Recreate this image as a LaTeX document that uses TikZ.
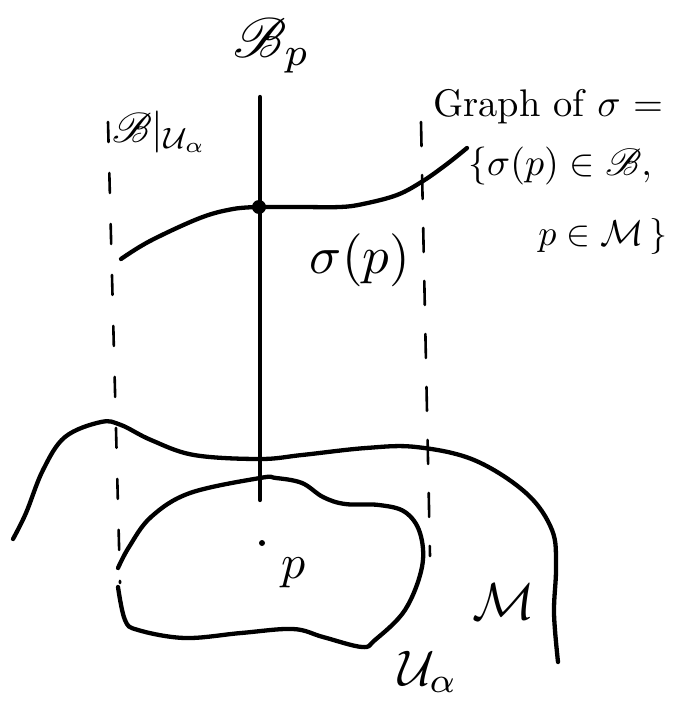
\documentclass[tikz,border=0pt]{standalone}
\usepackage{amsmath,amssymb,mathrsfs}
\usepackage{graphicx}
\begin{document}
\begin{tikzpicture}[x=1pt,y=-1pt,
  thick line/.style={line width=4.3pt,line cap=round,line join=round},
  dash line/.style={line width=2.6pt,line cap=round,dash pattern=on 20pt off 31pt},
  lbl/.style={inner sep=0pt,anchor=center}]
\useasboundingbox (0,0) rectangle (675,711);
% fibre and section
\coordinate (ftop) at (260,97);
\coordinate (fbot) at (260,500);
\draw[thick line] (ftop) -- (fbot);
\node[circle,fill,inner sep=0pt,minimum size=14pt] (sp) at (259,207) {};
\draw[thick line] plot[smooth,tension=0.6] coordinates {(121,259) (150,241) (200,218) (233,209) (sp)};
\draw[thick line] plot[smooth,tension=0.6] coordinates {(sp) (300,207) (340,207) (363,204) (397,195) (423,181) (447,164) (467,148)};
% dashed borders
\coordinate (la) at (108,122); \coordinate (lb) at (120,583);
\coordinate (ra) at (421,122); \coordinate (rb) at (430,556);
\draw[dash line] (la) -- (lb);
\draw[dash line,dash pattern=on 24pt off 29pt] (ra) -- (rb);
% manifold M
\draw[thick line] plot[smooth,tension=0.6] coordinates {(13,539) (26,513) (43,470) (65,437) (101,422) (121,425) (151,440) (194,455) (260,459) (302,455) (366,448) (416,447) (474,460) (526,493) (552,530) (556,567) (554,613) (558,662)};
% open set U_alpha
\draw[thick line] plot[smooth,tension=0.6] coordinates {(118,587) (125,620) (138,630) (185,638) (241,633) (293,629) (323,637) (362,647) (375,640) (405,610) (422,567) (420,533) (405,512) (379,505) (345,504) (323,497) (302,483) (276,478) (260,478) (190,493) (151,517) (129,547) (118,568)};
% point p
\node[circle,fill,inner sep=0pt,minimum size=6pt] (pt) at (262,543) {};
% labels
\node[lbl] (Bp) at (272,46) {\scalebox{5.6}{$\mathscr{B}_p$}};
\node[lbl] (BU) at (160,132) {\scalebox{4.2}{$\mathscr{B}|_{\mathcal{U}_\alpha}$}};
\node[lbl] (sig) at (360,260) {\scalebox{5.3}{$\sigma(p)$}};
\node[lbl,anchor=west] (graph) at (433,107) {\scalebox{3.85}{Graph of $\sigma$ =}};
\node[lbl,anchor=west] (set1) at (468,166) {\scalebox{3.8}{$\{\sigma(p)\in\mathscr{B},$}};
\node[lbl,anchor=east] (set2) at (668,236) {\scalebox{3.6}{$p\in\mathcal{M}\,\}$}};
\node[lbl] (plab) at (294,573) {\scalebox{4.8}{$p$}};
\node[lbl] (Mlab) at (504,602) {\scalebox{5.2}{$\mathcal{M}$}};
\node[lbl] (Ulab) at (428,672) {\scalebox{5}{$\mathcal{U}_\alpha$}};
\end{tikzpicture}
\end{document}
